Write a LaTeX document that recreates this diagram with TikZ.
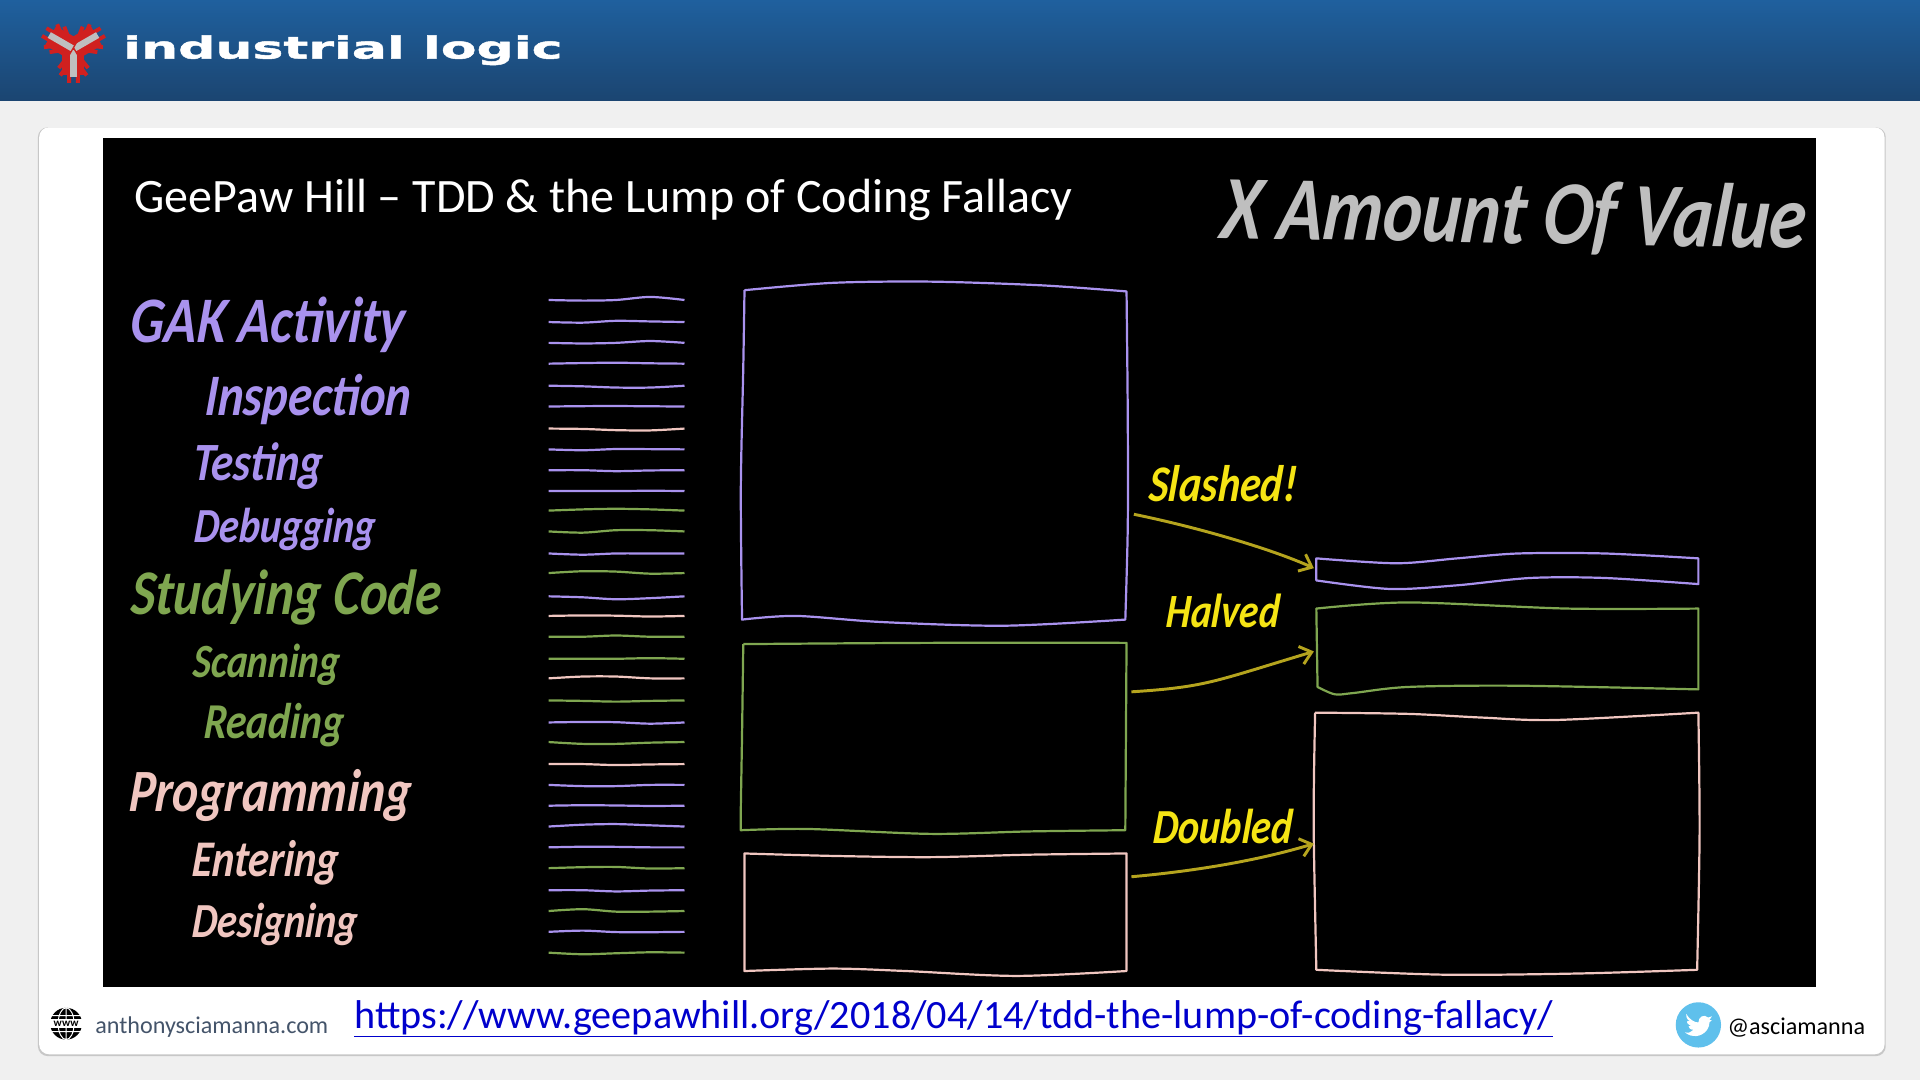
\documentclass[tikz,border=0pt]{standalone}
\usepackage{fontspec}
\usetikzlibrary{arrows.meta}
\setmainfont{Carlito}
\newfontfamily\handfont[UprightFont=* Bold Italic,FakeStretch=0.82,FakeSlant=0.08]{Carlito}
\newfontfamily\logofont[UprightFont=* Bold,FakeStretch=1.7,FakeBold=1.6]{DejaVu Sans}
\definecolor{gakcol}{HTML}{A992EE}
\definecolor{codecol}{HTML}{7FA650}
\definecolor{progcol}{HTML}{F0C6C0}
\definecolor{shoutcol}{HTML}{F5E414}
\definecolor{arrowcol}{HTML}{B5A41E}
\definecolor{logored}{HTML}{D0201F}
\definecolor{birdcol}{HTML}{5FC0EC}
\tikzset{
   hand/.style={font=\handfont\fontsize{#1}{#1}\selectfont,inner sep=0pt},
   plain/.style={font=\fontsize{#1}{#1}\selectfont,inner sep=0pt},
   inkline/.style={line width=1.8pt,line join=round},
   shoutarrow/.style={draw=arrowcol,line width=2.4pt,-{Straight Barb[length=9pt,width=15pt,line width=2.4pt]}}
}
\begin{document}
\begin{tikzpicture}[x=1pt,y=-1pt]

   \useasboundingbox (0,0) rectangle (1568,882);
   \fill [black!6] (0,0) rectangle (1568,882);
   \shade [top color={rgb,255:red,31;green,96;blue,158},bottom color={rgb,255:red,27;green,69;blue,113}] (0,0) rectangle (1568,82);
   \fill [black!22,rounded corners=8pt] (31,104) rectangle (1540,862.5);
   \fill [white,rounded corners=8pt] (32,104) rectangle (1539,861);
   \fill [black] (84,113) rectangle (1483,806);

   % logo
   \begin{scope}[shift={(60,40)},scale=1.2]
   \foreach \armang in {-90,30,150} {
      \begin{scope}[rotate=\armang]
      \fill [logored] (0,-7.5) rectangle (18,7.5);
      \draw [logored,line width=3.2pt] (8,-6) -- (13,-10) (8,6) -- (13,10) (14,-6) -- (18,-9) (14,6) -- (18,9) (17,-3) -- (23,-3) (17,3) -- (23,3);
      \fill [black!25] (1,-2.2) rectangle (19,2.2);
      \end{scope}
   }
   \end{scope}
   \node (logotext) at (280,41) [font=\logofont\fontsize{25}{25}\selectfont,text=white,inner sep=0pt] {industrial logic};

   \node (title) at (493,163) [plain=39.2,text=white] {GeePaw Hill -- TDD \& the Lump of Coding Fallacy};
   \node (xamount) at (1235,177) [hand=74,text=black!25,rotate=-1] {X Amount Of Value};

   \node (gak) at (218,265) [hand=53,text=gakcol] {GAK Activity};
   \node (inspection) at (251,326) [hand=48,text=gakcol] {Inspection};
   \node (testing) at (210,381) [hand=44,text=gakcol] {Testing};
   \node (debugging) at (232,432) [hand=40,text=gakcol] {Debugging};
   \node (studying) at (233,488) [hand=52,text=codecol] {Studying Code};
   \node (scanning) at (217,543) [hand=39,text=codecol] {Scanning};
   \node (reading) at (223,592) [hand=41,text=codecol] {Reading};
   \node (programming) at (220,650) [hand=49,text=progcol] {Programming};
   \node (entering) at (216,705) [hand=42,text=progcol] {Entering};
   \node (designing) at (224,755) [hand=40,text=progcol] {Designing};

   % one stroke per activity
   \foreach \ypos/\da/\db/\dc/\inkcol in {
      245/0.5/0/-2.5/gakcol, 263/0.5/-1/-0.5/gakcol, 280/0.5/0/-1.5/gakcol, 297/-0.5/-0.8/-0.3/gakcol,
      315/0.5/1.5/1.5/gakcol, 332/-0.3/-0.4/-0.2/gakcol, 350/0.3/1.3/1.5/progcol, 367/0.7/-0.3/-0.2/gakcol,
      384/0/0.8/0.2/gakcol, 401/0/0/-0.2/gakcol, 417/-1/-1.5/-1/codecol, 434/1/-1/-1/codecol,
      452/1/0/0/gakcol, 468/-1.5/-1.2/0.5/codecol, 487/0.8/2.4/1.5/gakcol, 503/-0.4/-0.2/0.5/progcol,
      520/0/-1/0/codecol, 538/0/0/-0.5/codecol, 554/-1.5/-1.5/0/progcol, 572/0.4/1/0.4/codecol,
      590/-0.4/-0.2/1/gakcol, 606/1.5/1.5/0.5/codecol, 624/0/0.8/0.3/progcol, 641/1/1/0/gakcol,
      658/-0.4/-0.2/0.2/gakcol, 675/-1.5/-2/-1/gakcol, 692/-0.5/-0.4/0/gakcol, 709/-0.8/-1/0.3/codecol,
      727/0/1/0.3/gakcol, 744/-1.5/0.5/0.5/codecol, 761/-1/0.2/0.3/gakcol, 778/1.3/0.5/-0.3/codecol} {
      \draw [inkline,\inkcol] plot[smooth] coordinates {(448,\ypos) (476,\ypos+\da) (503,\ypos+\db) (531,\ypos+\dc) (559,\ypos)};
   }

   % before
   \draw [inkline,gakcol] plot[smooth] coordinates {(608,237) (680,231) (760,230) (850,233) (920,238)} -- plot[smooth] coordinates {(920,238) (921,340) (921,430) (919,506)} -- plot[smooth] coordinates {(919,506) (820,511) (720,508) (650,503) (606,506)} -- plot[smooth] coordinates {(606,506) (605,400) (607,300) (608,237)};
   \draw [inkline,codecol] plot[smooth] coordinates {(607,526) (760,525) (920,525)} -- (919,678) -- plot[smooth] coordinates {(919,678) (840,679) (760,681) (660,677) (605,678)} -- plot[smooth] coordinates {(605,678) (605,660) (606,600) (607,526)};
   \draw [inkline,progcol] plot[smooth] coordinates {(608,697) (680,699) (760,700) (840,698) (920,697)} -- (920,793) -- plot[smooth] coordinates {(920,793) (830,797) (740,793) (680,791) (608,793)} -- cycle;

   % after
   \draw [inkline,gakcol] plot[smooth] coordinates {(1075,456) (1140,460) (1190,456) (1240,452) (1310,452) (1387,456)} -- (1387,477) -- plot[smooth] coordinates {(1387,477) (1310,472) (1250,472) (1190,478) (1135,481) (1075,474)} -- cycle;
   \draw [inkline,codecol] plot[smooth] coordinates {(1075,497) (1150,492) (1280,497) (1387,497)} -- (1387,563) -- plot[smooth] coordinates {(1387,563) (1240,560) (1150,561) (1105,566) (1090,567) (1076,561)} -- cycle;
   \draw [inkline,progcol] plot[smooth] coordinates {(1074,582) (1150,583) (1210,586) (1270,588) (1387,582)} -- plot[smooth] coordinates {(1387,582) (1388,680) (1386,792)} -- plot[smooth] coordinates {(1386,792) (1290,795) (1180,796) (1075,792)} -- plot[smooth] coordinates {(1075,792) (1073,690) (1073,640) (1074,582)};

   \node (slashed) at (998,395) [hand=42,text=shoutcol] {Slashed!};
   \node (halved) at (998,499) [hand=39,text=shoutcol] {Halved};
   \node (doubled) at (998,675) [hand=40,text=shoutcol] {Doubled};

   \coordinate (slashedfrom) at (926,420);
   \coordinate (slashedto) at (1073,464);
   \coordinate (halvedfrom) at (924,565);
   \coordinate (halvedto) at (1073,532);
   \coordinate (doubledfrom) at (924,716);
   \coordinate (doubledto) at (1073,689);

   \draw [shoutarrow] (slashedfrom) .. controls (980,431) and (1040,449) .. (slashedto);
   \draw [shoutarrow] (halvedfrom) .. controls (985,561) and (990,557) .. (halvedto);
   \draw [shoutarrow] (doubledfrom) .. controls (980,711) and (1030,702) .. (doubledto);

   % footer
   \begin{scope}[shift={(54,836)}]
   \fill [black] (0,0) circle (13);
   \draw [white,line width=0.8pt] (0,-13) -- (0,13) (0,0) ellipse (6.5 and 13) (-13,-6.5) -- (13,-6.5) (-13,6.5) -- (13,6.5);
   \fill [white] (-14,-3.5) rectangle (14,3.5);
   \node (www) at (0,0) [font=\bfseries\fontsize{9}{9}\selectfont,inner sep=0pt] {www};
   \end{scope}
   \node (website) at (173,839) [plain=19.7,text={rgb,255:red,68;green,84;blue,106}] {anthonysciamanna.com};
   \node (url) at (779,832) [plain=32.8,text={rgb,255:red,0;green,0;blue,204}] {\underline{https://www.geepawhill.org/2018/04/14/tdd-the-lump-of-coding-fallacy/}};
   \begin{scope}[shift={(1387,837)}]
   \fill [birdcol] (0,0) circle (18.5);
   \fill [white] (-10,-9) .. controls (-7,-4) and (-3,-2) .. (0,-2) .. controls (0,-7) and (5,-9) .. (8,-6) -- (11,-7) -- (9,-4) -- (11,-4) -- (9,-2) .. controls (9,5) and (2,10) .. (-4,9) .. controls (-7,9) and (-10,7) .. (-11,6) .. controls (-8,7) and (-6,6) .. (-4,4) .. controls (-7,4) and (-8,2) .. (-8,1) -- (-6,1) .. controls (-8,0) and (-10,-2) .. (-9,-3) -- (-7,-3) .. controls (-10,-5) and (-10,-7) .. (-10,-9) -- cycle;
   \end{scope}
   \node (handle) at (1467,839) [plain=19.7,text=black] {@asciamanna};

\end{tikzpicture}
\end{document}
